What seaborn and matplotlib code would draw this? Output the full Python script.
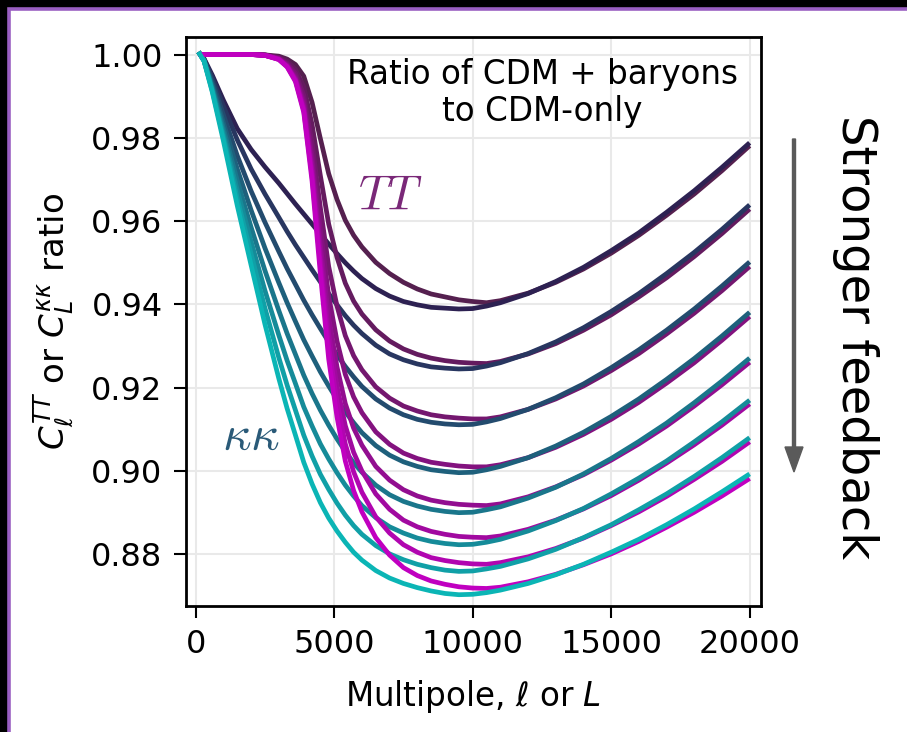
import numpy as np
import pandas as pd
import matplotlib
matplotlib.use("Agg")
import matplotlib.pyplot as plt
import seaborn as sns
from matplotlib.patches import Rectangle, FancyArrow
from matplotlib.transforms import IdentityTransform

# ---------------- data ----------------
ell = [100, 300, 600, 1000, 1500, 2000, 2500, 3000, 3300, 3600, 3900, 4200, 4500, 4800,
       5100, 5400, 5700, 6000, 6500, 7000, 7500, 8000, 8500, 9000, 9500, 10000, 10500,
       11000, 12000, 13000, 14000, 15000, 16000, 17000, 18000, 19000, 20000]

# TT ratio curves, weakest -> strongest feedback
tt0 = [1.0, 1.0, 1.0, 1.0, 1.0, 1.0, 0.9999, 0.9996, 0.9989, 0.9976, 0.9948, 0.9885, 0.9798, 0.9714, 0.9652, 0.9602, 0.9566, 0.9538, 0.9501, 0.9474, 0.9453, 0.9437, 0.9425, 0.9418, 0.9411, 0.9407, 0.9404, 0.9409, 0.9427, 0.9453, 0.9485, 0.9523, 0.9566, 0.9614, 0.9665, 0.9721, 0.9781]
tt1 = [1.0, 1.0, 1.0, 1.0, 1.0, 1.0, 0.9999, 0.9993, 0.9984, 0.9964, 0.9923, 0.9832, 0.9709, 0.9593, 0.9513, 0.9451, 0.9408, 0.9377, 0.9339, 0.9312, 0.9293, 0.9280, 0.9271, 0.9265, 0.9261, 0.9259, 0.9258, 0.9263, 0.9281, 0.9306, 0.9338, 0.9375, 0.9418, 0.9464, 0.9515, 0.9570, 0.9629]
tt2 = [1.0, 1.0, 1.0, 1.0, 1.0, 1.0, 0.9999, 0.9992, 0.9979, 0.9955, 0.9902, 0.9787, 0.9632, 0.9491, 0.9396, 0.9325, 0.9277, 0.9243, 0.9202, 0.9175, 0.9156, 0.9144, 0.9135, 0.9130, 0.9127, 0.9125, 0.9125, 0.9130, 0.9148, 0.9173, 0.9204, 0.9241, 0.9282, 0.9329, 0.9379, 0.9433, 0.9491]
tt3 = [1.0, 1.0, 1.0, 1.0, 1.0, 1.0, 0.9998, 0.9990, 0.9976, 0.9948, 0.9889, 0.9757, 0.9580, 0.9420, 0.9312, 0.9232, 0.9178, 0.9140, 0.9094, 0.9064, 0.9043, 0.9030, 0.9021, 0.9016, 0.9012, 0.9010, 0.9010, 0.9015, 0.9032, 0.9057, 0.9088, 0.9124, 0.9165, 0.9211, 0.9260, 0.9314, 0.9371]
tt4 = [1.0, 1.0, 1.0, 1.0, 1.0, 1.0, 0.9998, 0.9990, 0.9974, 0.9943, 0.9879, 0.9736, 0.9543, 0.9369, 0.9250, 0.9162, 0.9103, 0.9062, 0.9011, 0.8978, 0.8955, 0.8940, 0.8930, 0.8924, 0.8920, 0.8918, 0.8917, 0.8921, 0.8938, 0.8962, 0.8991, 0.9026, 0.9065, 0.9108, 0.9156, 0.9207, 0.9261]
tt5 = [1.0, 1.0, 1.0, 1.0, 1.0, 1.0, 0.9998, 0.9989, 0.9972, 0.9940, 0.9872, 0.9720, 0.9516, 0.9330, 0.9204, 0.9109, 0.9045, 0.9000, 0.8945, 0.8908, 0.8882, 0.8866, 0.8855, 0.8848, 0.8843, 0.8841, 0.8840, 0.8844, 0.8860, 0.8882, 0.8909, 0.8941, 0.8978, 0.9019, 0.9063, 0.9110, 0.9161]
tt6 = [1.0, 1.0, 1.0, 1.0, 1.0, 1.0, 0.9998, 0.9988, 0.9971, 0.9938, 0.9866, 0.9708, 0.9494, 0.9299, 0.9166, 0.9065, 0.8998, 0.8949, 0.8890, 0.8851, 0.8823, 0.8805, 0.8792, 0.8785, 0.8780, 0.8777, 0.8776, 0.8780, 0.8794, 0.8814, 0.8839, 0.8869, 0.8902, 0.8939, 0.8980, 0.9023, 0.9070]
tt7 = [1.0, 1.0, 1.0, 1.0, 1.0, 1.0, 0.9998, 0.9988, 0.9970, 0.9935, 0.9861, 0.9696, 0.9473, 0.9269, 0.9130, 0.9024, 0.8953, 0.8902, 0.8840, 0.8798, 0.8768, 0.8749, 0.8736, 0.8728, 0.8722, 0.8719, 0.8718, 0.8721, 0.8734, 0.8752, 0.8775, 0.8801, 0.8831, 0.8865, 0.8901, 0.8940, 0.8982]

# kappa-kappa ratio curves, weakest -> strongest feedback
kk0 = [1.0006, 0.9990, 0.9950, 0.9890, 0.9822, 0.9772, 0.9730, 0.9691, 0.9666, 0.9641, 0.9617, 0.9593, 0.9569, 0.9545, 0.9522, 0.9500, 0.9480, 0.9462, 0.9438, 0.9420, 0.9407, 0.9399, 0.9393, 0.9391, 0.9389, 0.9390, 0.9396, 0.9404, 0.9426, 0.9455, 0.9489, 0.9529, 0.9572, 0.9621, 0.9673, 0.9729, 0.9788]
kk1 = [1.0006, 0.9989, 0.9944, 0.9876, 0.9795, 0.9725, 0.9665, 0.9609, 0.9575, 0.9543, 0.9513, 0.9483, 0.9454, 0.9426, 0.9399, 0.9373, 0.9350, 0.9330, 0.9302, 0.9281, 0.9267, 0.9257, 0.9250, 0.9247, 0.9245, 0.9246, 0.9252, 0.9260, 0.9282, 0.9310, 0.9344, 0.9383, 0.9426, 0.9474, 0.9525, 0.9580, 0.9639]
kk2 = [1.0006, 0.9987, 0.9935, 0.9855, 0.9757, 0.9672, 0.9597, 0.9527, 0.9486, 0.9448, 0.9410, 0.9375, 0.9342, 0.9310, 0.9279, 0.9251, 0.9226, 0.9203, 0.9173, 0.9151, 0.9135, 0.9124, 0.9117, 0.9113, 0.9111, 0.9112, 0.9118, 0.9126, 0.9148, 0.9176, 0.9209, 0.9248, 0.9291, 0.9338, 0.9389, 0.9444, 0.9502]
kk3 = [1.0006, 0.9986, 0.9927, 0.9836, 0.9725, 0.9626, 0.9535, 0.9452, 0.9404, 0.9359, 0.9315, 0.9276, 0.9238, 0.9204, 0.9172, 0.9142, 0.9116, 0.9092, 0.9061, 0.9038, 0.9022, 0.9011, 0.9003, 0.8999, 0.8996, 0.8997, 0.9003, 0.9011, 0.9032, 0.9060, 0.9093, 0.9131, 0.9173, 0.9220, 0.9270, 0.9324, 0.9381]
kk4 = [1.0006, 0.9985, 0.9921, 0.9822, 0.9697, 0.9585, 0.9481, 0.9385, 0.9330, 0.9280, 0.9230, 0.9186, 0.9146, 0.9110, 0.9077, 0.9047, 0.9020, 0.8997, 0.8966, 0.8943, 0.8927, 0.8916, 0.8908, 0.8903, 0.8900, 0.8901, 0.8907, 0.8914, 0.8935, 0.8961, 0.8993, 0.9030, 0.9071, 0.9115, 0.9164, 0.9216, 0.9271]
kk5 = [1.0006, 0.9985, 0.9916, 0.9810, 0.9674, 0.9551, 0.9433, 0.9326, 0.9265, 0.9210, 0.9154, 0.9108, 0.9065, 0.9029, 0.8996, 0.8966, 0.8940, 0.8917, 0.8888, 0.8866, 0.8851, 0.8839, 0.8831, 0.8826, 0.8823, 0.8824, 0.8829, 0.8836, 0.8856, 0.8881, 0.8910, 0.8945, 0.8983, 0.9024, 0.9070, 0.9118, 0.9170]
kk6 = [1.0006, 0.9985, 0.9912, 0.9801, 0.9654, 0.9521, 0.9391, 0.9272, 0.9206, 0.9146, 0.9086, 0.9036, 0.8992, 0.8956, 0.8923, 0.8894, 0.8869, 0.8848, 0.8821, 0.8801, 0.8787, 0.8776, 0.8768, 0.8762, 0.8759, 0.8760, 0.8765, 0.8771, 0.8789, 0.8812, 0.8840, 0.8871, 0.8907, 0.8945, 0.8987, 0.9032, 0.9080]
kk7 = [1.0006, 0.9984, 0.9909, 0.9792, 0.9637, 0.9494, 0.9352, 0.9222, 0.9150, 0.9086, 0.9021, 0.8969, 0.8924, 0.8887, 0.8856, 0.8829, 0.8805, 0.8786, 0.8761, 0.8743, 0.8730, 0.8720, 0.8712, 0.8706, 0.8703, 0.8704, 0.8708, 0.8714, 0.8730, 0.8751, 0.8776, 0.8805, 0.8836, 0.8871, 0.8909, 0.8950, 0.8993]

tt_curves = [tt0, tt1, tt2, tt3, tt4, tt5, tt6, tt7]
kk_curves = [kk0, kk1, kk2, kk3, kk4, kk5, kk6, kk7]

xticks = [0, 5000, 10000, 15000, 20000]
yticks = [0.88, 0.90, 0.92, 0.94, 0.96, 0.98, 1.00]

# ---------------- styling ----------------
sns.set_theme(style="whitegrid")
plt.rcParams['font.family'] = ['DejaVu Sans']
plt.rcParams['mathtext.fontset'] = 'dejavusans'

tt_pal = sns.blend_palette(["#55204f", "#c000c0"], 8)
kk_pal = sns.blend_palette(["#2d2152", "#0bb5b5"], 8)

rows = []
order = []
palette = {}
for i in range(8):
    for kind, curves, pal in (("TT", tt_curves, tt_pal), ("KK", kk_curves, kk_pal)):
        name = f"{kind}{i}"
        order.append(name)
        palette[name] = pal[i]
        for x, y in zip(ell, curves[i]):
            rows.append((name, x, y))
df = pd.DataFrame(rows, columns=["curve", "ell", "ratio"])

W, H = 907, 732
fig = plt.figure(figsize=(W / 100, H / 100), dpi=100)
fig.patch.set_facecolor("black")

# slide-like white panel with purple border
panel = Rectangle((8.5, -20), 1000, (H - 8.5) + 20, transform=IdentityTransform(),
                  facecolor="white", edgecolor="#9a5fc2", linewidth=2.6, zorder=-10)
fig.add_artist(panel)

ax = fig.add_axes([185.5 / W, 1 - 606 / H, (761 - 185.5) / W, (606 - 37.3) / H])
ax.set_facecolor("white")

sns.lineplot(data=df, x="ell", y="ratio", hue="curve", hue_order=order,
             palette=palette, linewidth=3.4, legend=False, estimator=None,
             ax=ax, solid_capstyle="butt", solid_joinstyle="round")

ax.set_xlim(-370, 20410)
ax.set_ylim(0.86759, 1.00413)
ax.set_xticks(xticks)
ax.set_yticks(yticks)
ax.set_yticklabels([f"{v:.2f}" for v in yticks])
ax.grid(True, color="#e9e9e9", linewidth=1.5)
for s in ax.spines.values():
    s.set_color("black")
    s.set_linewidth(2.0)
ax.tick_params(axis="both", which="major", direction="out", length=8.5, width=1.5,
               color="black", labelsize=23, labelcolor="black", pad=8,
               bottom=True, left=True)

ax.set_xlabel(r"Multipole, $\ell$ or $L$", fontsize=23.5, color="black", labelpad=13)
ax.set_ylabel(r"$C_\ell^{TT}$ or $C_L^{\kappa\kappa}$ ratio", fontsize=24.5,
              color="black", labelpad=11)

ax.text(0.6195, 0.902, "Ratio of CDM + baryons\nto CDM-only", transform=ax.transAxes,
        ha="center", va="center", multialignment="center", fontsize=23.5, color="black",
        linespacing=1.12)
ax.text(7040, 0.9663, r"$TT$", fontsize=35, color="#7a2878", ha="center", va="center",
        math_fontfamily="cm")
ax.text(1985, 0.9084, r"$\kappa\kappa$", fontsize=36, color="#2a5a78", ha="center",
        va="center", math_fontfamily="cm")

fig.text(855 / W, 1 - 337 / H, "Stronger feedback", rotation=-90, fontsize=34.7,
         ha="center", va="center", color="black")
arrow = FancyArrow(794, H - 139, 0, -(472 - 139), width=3, head_width=18,
                   head_length=25, length_includes_head=True,
                   transform=IdentityTransform(), color="#5a5a5a")
fig.add_artist(arrow)

fig.savefig("out.png", dpi=100, facecolor=fig.get_facecolor())
